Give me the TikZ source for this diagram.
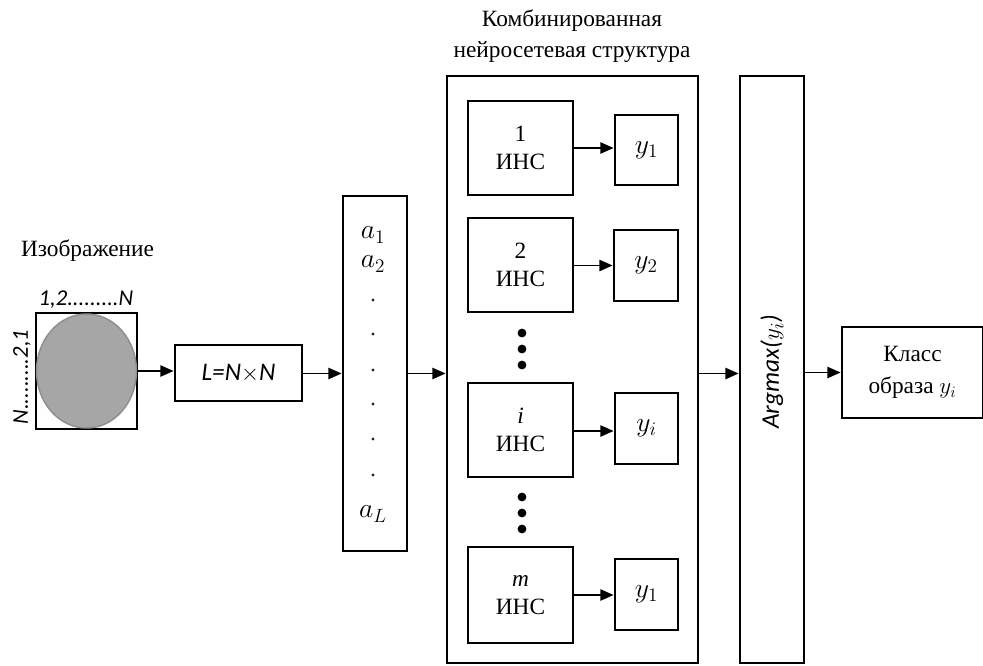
\documentclass[tikz,border=0pt]{standalone}
\usepackage{fontspec}
\setmainfont{Liberation Serif}
\newfontfamily\calf{Carlito}
\usetikzlibrary{arrows.meta}
\definecolor{discgray}{HTML}{A6A6A6}
\definecolor{discedge}{HTML}{8E8E8E}
\begin{document}
\begin{tikzpicture}[x=0.75pt,y=-0.75pt,
  box/.style 2 args={draw, line width=2.1pt, minimum width=#1*0.75pt, minimum height=#2*0.75pt, inner sep=0pt, align=center, font=\fontsize{17.5}{21}\selectfont},
  arr/.style={line width=1.3pt, -{Triangle[length=10pt,width=8.5pt]}},
  lbl/.style={inner sep=0pt, align=center, font=\fontsize{17.5}{23}\selectfont},
  callbl/.style={inner sep=0pt, font=\fontsize{17}{20}\selectfont\calf\itshape},
  mth/.style={inner sep=0pt, font=\fontsize{20}{24}\selectfont},
  bigdot/.style={fill=black},
  smalldot/.style={fill=black!85}
]
\useasboundingbox (0,0) rectangle (983,665);

% image
\node[lbl] (imgtitle) at (87.5,251) {Изображение};
\node[box={101}{116}] (img) at (86.5,371) {};
\fill[discgray, draw=discedge, line width=1.1pt] (86.5,371) ellipse [x radius=50*0.75pt, y radius=57*0.75pt];
\node[callbl] (toplab) at (86,300) {1,2.........N};
\node[callbl, rotate=90] (sidelab) at (22,377) {N.........2,1};

% L box
\node[box={127}{56}, font=\fontsize{19}{22}\selectfont\calf\itshape] (L) at (238.5,373) {L=N$\times$N};

% a column
\node[box={64}{355}] (A) at (375,373.5) {};
\node[mth] (a1) at (373,235) {$a_1$};
\node[mth] (a2) at (373,264) {$a_2$};
\node[mth] (aL) at (373,514) {$a_L$};
\foreach \yy in {300,334,370,404,439,475}
  \fill[smalldot] (373,\yy) circle (1.3pt);

% combined structure
\node[lbl, font=\fontsize{17.5}{23.5}\selectfont] (title) at (572,36) {Комбинированная\\нейросетевая структура};
\node[box={251}{587}] (C) at (572.5,369.5) {};

\node[box={105}{94}] (b1) at (520.5,148) {1\\ИНС};
\node[box={63}{70}, font=\fontsize{21}{24}\selectfont] (y1) at (646.5,150) {$y_1$};
\node[box={105}{94}] (b2) at (520.5,265) {2\\ИНС};
\node[box={64}{71}, font=\fontsize{21}{24}\selectfont] (y2) at (646,265.5) {$y_2$};
\node[box={105}{94}] (bi) at (520.5,430) {\textit{i}\\ИНС};
\node[box={63}{71}, font=\fontsize{21}{24}\selectfont] (yi) at (646.5,428.5) {$y_i$};
\node[box={105}{96}] (bm) at (520.5,595) {\textit{m}\\ИНС};
\node[box={63}{71}, font=\fontsize{21}{24}\selectfont] (ym) at (646.5,594.5) {$y_1$};

\foreach \yy in {333,349,365,497,513,529}
  \fill[bigdot] (522,\yy) circle (3.3pt);

\draw[arr] (b1.east |- 0,148) -- (y1.west |- 0,148);
\draw[arr] (b2.east |- y2.west) -- (y2.west);
\draw[arr] (bi.east |- 0,431) -- (yi.west |- 0,431);
\draw[arr] (bm.east |- 0,595) -- (ym.west |- 0,595);

% argmax
\node[box={64}{587}] (AM) at (772,369.5) {};
\node[callbl, rotate=90, font=\fontsize{19}{22}\selectfont\calf\itshape] (amlab) at (772,372) {Argmax(\upshape$y_i$\itshape)};

% class box
\node[box={141}{91}, font=\fontsize{17.5}{24}\selectfont] (K) at (912.5,372.5) {Класс\\образа $y_i$};

% main chain arrows
\draw[arr] (img.east) -- (img.east -| L.west);
\draw[arr] (L.east |- A.west) -- (A.west);
\draw[arr] (A.east) -- (A.east -| C.west);
\draw[arr] (C.east |- A.east) -- (A.east -| AM.west);
\draw[arr] (AM.east |- K.west) -- (K.west);
\end{tikzpicture}
\end{document}
